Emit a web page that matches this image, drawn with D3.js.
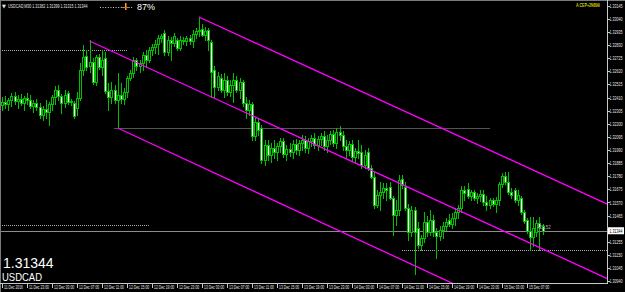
<!DOCTYPE html>
<html>
<head>
<meta charset="utf-8">
<script src="https://cdnjs.cloudflare.com/ajax/libs/d3/7.8.5/d3.min.js"></script>
<style>
html, body { margin: 0; padding: 0; background: #000; overflow: hidden; }
</style>
</head>
<body>
<div id="chart"></div>
<script>
// USDCAD M30 candles, [open, high, low, close], oldest first
var candles = [
	[1.32350,1.32414,1.32310,1.32374],[1.32374,1.32422,1.32326,1.32358],[1.32358,1.32406,1.32310,1.32390],
	[1.32390,1.32446,1.32342,1.32422],[1.32422,1.32454,1.32358,1.32382],[1.32382,1.32430,1.32326,1.32398],
	[1.32398,1.32438,1.32350,1.32366],[1.32366,1.32422,1.32310,1.32406],[1.32406,1.32446,1.32358,1.32390],
	[1.32390,1.32430,1.32326,1.32342],[1.32342,1.32390,1.32294,1.32366],[1.32366,1.32398,1.32310,1.32334],
	[1.32334,1.32366,1.32246,1.32270],[1.32270,1.32342,1.32230,1.32318],[1.32318,1.32390,1.32246,1.32294],
	[1.32294,1.32374,1.32190,1.32358],[1.32358,1.32430,1.32310,1.32414],[1.32414,1.32502,1.32358,1.32470],
	[1.32470,1.32510,1.32390,1.32422],[1.32422,1.32438,1.32286,1.32366],[1.32366,1.32470,1.32334,1.32430],
	[1.32446,1.32462,1.32358,1.32374],[1.32374,1.32398,1.32350,1.32382],[1.32366,1.32382,1.32246,1.32262],
	[1.32326,1.32454,1.32270,1.32406],[1.32406,1.32686,1.32390,1.32630],[1.32630,1.32830,1.32590,1.32734],
	[1.32742,1.32790,1.32630,1.32654],[1.32662,1.32870,1.32614,1.32694],[1.32694,1.32726,1.32518,1.32534],
	[1.32534,1.32750,1.32510,1.32734],[1.32734,1.32758,1.32638,1.32654],[1.32654,1.32790,1.32590,1.32710],
	[1.32726,1.32774,1.32446,1.32462],[1.32462,1.32526,1.32310,1.32414],[1.32414,1.32534,1.32366,1.32470],
	[1.32470,1.32510,1.32366,1.32390],[1.32390,1.32606,1.32166,1.32430],[1.32430,1.32526,1.32366,1.32398],
	[1.32398,1.32486,1.32358,1.32454],[1.32454,1.32582,1.32414,1.32566],[1.32566,1.32630,1.32550,1.32606],
	[1.32606,1.32734,1.32574,1.32710],[1.32710,1.32726,1.32630,1.32662],[1.32662,1.32710,1.32614,1.32686],
	[1.32686,1.32774,1.32630,1.32750],[1.32750,1.32790,1.32654,1.32710],[1.32710,1.32814,1.32694,1.32790],
	[1.32790,1.32838,1.32750,1.32814],[1.32814,1.32870,1.32766,1.32838],[1.32838,1.32910,1.32758,1.32886],
	[1.32886,1.32918,1.32854,1.32902],[1.32926,1.32950,1.32750,1.32774],[1.32774,1.32902,1.32750,1.32870],
	[1.32870,1.32894,1.32710,1.32846],[1.32846,1.32926,1.32822,1.32902],[1.32870,1.32886,1.32790,1.32806],
	[1.32806,1.32902,1.32790,1.32870],[1.32870,1.32894,1.32838,1.32862],[1.32862,1.32902,1.32830,1.32886],
	[1.32886,1.32910,1.32838,1.32862],[1.32862,1.32950,1.32814,1.32918],[1.32918,1.32966,1.32886,1.32942],
	[1.32942,1.33054,1.32902,1.32950],[1.32958,1.32998,1.32902,1.32910],[1.32910,1.32974,1.32870,1.32942],
	[1.32950,1.32966,1.32790,1.32870],[1.32854,1.32870,1.32414,1.32614],[1.32630,1.32662,1.32414,1.32494],
	[1.32494,1.32614,1.32470,1.32582],[1.32566,1.32598,1.32454,1.32470],[1.32470,1.32606,1.32414,1.32550],
	[1.32550,1.32582,1.32430,1.32454],[1.32454,1.32550,1.32422,1.32510],[1.32510,1.32606,1.32374,1.32550],
	[1.32550,1.32582,1.32454,1.32470],[1.32470,1.32566,1.32406,1.32534],[1.32534,1.32550,1.32342,1.32366],
	[1.32366,1.32414,1.32246,1.32310],[1.32310,1.32390,1.32270,1.32358],[1.32358,1.32374,1.32070,1.32102],
	[1.32102,1.32246,1.32070,1.32214],[1.32214,1.32246,1.32110,1.32150],[1.32166,1.32190,1.31886,1.31910],
	[1.31910,1.32070,1.31870,1.32030],[1.32030,1.32070,1.31910,1.31950],[1.31950,1.32046,1.31894,1.32006],
	[1.32006,1.32070,1.31926,1.31974],[1.31974,1.32046,1.31910,1.32022],[1.32022,1.32086,1.31974,1.32062],
	[1.32062,1.32086,1.31934,1.31958],[1.31958,1.32030,1.31910,1.31998],[1.31998,1.32046,1.31942,1.31974],
	[1.31974,1.32070,1.31926,1.32038],[1.32038,1.32078,1.31958,1.31990],[1.31990,1.32070,1.31950,1.32046],
	[1.32046,1.32110,1.31990,1.32070],[1.32070,1.32102,1.31974,1.32006],[1.32006,1.32086,1.31966,1.32062],
	[1.32062,1.32110,1.32022,1.32086],[1.32086,1.32126,1.32006,1.32030],[1.32030,1.32102,1.31990,1.32078],
	[1.32078,1.32126,1.32030,1.32102],[1.32102,1.32142,1.31990,1.32022],[1.32022,1.32110,1.31974,1.32070],
	[1.32070,1.32142,1.32038,1.32118],[1.32118,1.32150,1.32022,1.32046],[1.32046,1.32166,1.32006,1.32134],
	[1.32134,1.32182,1.32070,1.32110],[1.32110,1.32142,1.31990,1.32022],[1.32022,1.32070,1.31926,1.31990],
	[1.31990,1.32062,1.31950,1.32038],[1.32038,1.32070,1.31910,1.31934],[1.31934,1.32006,1.31894,1.31982],
	[1.31982,1.32070,1.31926,1.31966],[1.31974,1.32030,1.31846,1.31870],[1.31870,1.31990,1.31846,1.31950],
	[1.31974,1.32006,1.31830,1.31846],[1.31846,1.31870,1.31766,1.31774],[1.31774,1.31814,1.31526,1.31550],
	[1.31550,1.31670,1.31534,1.31630],[1.31630,1.31734,1.31510,1.31654],[1.31654,1.31726,1.31606,1.31686],
	[1.31686,1.31726,1.31590,1.31670],[1.31694,1.31734,1.31598,1.31606],[1.31606,1.31622,1.31310,1.31470],
	[1.31470,1.31590,1.31390,1.31510],[1.31510,1.31790,1.31470,1.31750],[1.31758,1.31790,1.31686,1.31710],
	[1.31694,1.31734,1.31510,1.31526],[1.31526,1.31558,1.31270,1.31334],[1.31334,1.31542,1.31302,1.31510],
	[1.31510,1.31534,1.30998,1.31334],[1.31366,1.31414,1.31206,1.31230],[1.31230,1.31310,1.31190,1.31286],
	[1.31286,1.31494,1.31254,1.31414],[1.31414,1.31462,1.31302,1.31334],[1.31334,1.31510,1.31310,1.31430],
	[1.31430,1.31470,1.31302,1.31334],[1.31334,1.31366,1.31126,1.31302],[1.31302,1.31382,1.31270,1.31350],
	[1.31350,1.31414,1.31286,1.31382],[1.31382,1.31446,1.31350,1.31414],[1.31430,1.31478,1.31382,1.31398],
	[1.31398,1.31486,1.31366,1.31446],[1.31446,1.31526,1.31390,1.31494],[1.31494,1.31550,1.31446,1.31526],
	[1.31526,1.31702,1.31494,1.31670],[1.31670,1.31702,1.31590,1.31646],[1.31678,1.31726,1.31606,1.31622],
	[1.31622,1.31670,1.31590,1.31654],[1.31654,1.31670,1.31590,1.31606],[1.31606,1.31646,1.31566,1.31622],
	[1.31622,1.31670,1.31582,1.31638],[1.31638,1.31670,1.31550,1.31574],[1.31574,1.31622,1.31510,1.31550],
	[1.31550,1.31606,1.31526,1.31590],[1.31590,1.31606,1.31542,1.31558],[1.31558,1.31614,1.31494,1.31590],
	[1.31590,1.31734,1.31550,1.31718],[1.31718,1.31806,1.31694,1.31782],[1.31782,1.31814,1.31718,1.31734],
	[1.31734,1.31814,1.31638,1.31654],[1.31654,1.31686,1.31606,1.31630],[1.31670,1.31686,1.31574,1.31590],
	[1.31590,1.31670,1.31550,1.31630],[1.31606,1.31622,1.31478,1.31494],[1.31494,1.31510,1.31406,1.31422],
	[1.31430,1.31446,1.31326,1.31342],[1.31342,1.31454,1.31190,1.31294],[1.31294,1.31454,1.31222,1.31366],
	[1.31334,1.31430,1.31302,1.31406],[1.31406,1.31454,1.31190,1.31374],[1.31382,1.31399,1.31315,1.31344]
];

// one time label every 8 bars
var timeLabels = ["11 Dec 2016", "11 Dec 23:00", "12 Dec 03:00", "12 Dec 07:00", "12 Dec 11:00",
	"12 Dec 15:00", "12 Dec 19:00", "12 Dec 23:00", "13 Dec 03:00", "13 Dec 07:00", "13 Dec 11:00",
	"13 Dec 15:00", "13 Dec 19:00", "13 Dec 23:00", "14 Dec 03:00", "14 Dec 07:00", "14 Dec 11:00",
	"14 Dec 15:00", "14 Dec 19:00", "14 Dec 23:00", "15 Dec 03:00", "15 Dec 07:00"];

var priceTicks = [1.33145, 1.33040, 1.32935, 1.32830, 1.32725, 1.32620, 1.32515, 1.32410, 1.32305,
	1.32200, 1.32095, 1.31990, 1.31885, 1.31780, 1.31675, 1.31570, 1.31465, 1.31360, 1.31255,
	1.31150, 1.31045, 1.30940];

var symbol = "USDCAD", period = "M30";
var lastPrice = 1.31344;
var spreadNote = "+23.52";

// trend channel, each line = [bar, price] -> [bar, price]
var channelUpper = [[63, 1.33054], [194, 1.31554]];
var channelMiddle = [[28, 1.32862], [194, 1.30958]];
var channelLower = [[37, 1.32166], [150, 1.30856]];

// dotted horizontal levels: price, first bar, last bar
var levelPrices = [1.32790, 1.32166, 1.31390, 1.31190];
var levelFrom = [-1, 36, -1, 128];
var levelTo = [40, 156, 47, 195];

var W = 625, H = 292;
var plotR = 607, plotB = 283;
var green = "#00c000";
var font = "Liberation Sans, Arial, sans-serif";

var svg = d3.select("#chart").append("svg")
	.attr("width", W).attr("height", H)
	.style("display", "block")
	.style("background", "#000");

var x = d3.scaleLinear().domain([0, 194]).range([2, 608.25]);
var y = d3.scaleLinear().domain([1.33190, 1.30926]).range([0, 283]);

// tiny terminal text, squeezed sideways like the downscaled original
function tinyText(parent, tx, ty, sx, txt, fill) {
	return parent.append("g")
		.attr("transform", "translate(" + tx + "," + ty + ") scale(" + sx + ",1)")
		.append("text")
		.attr("font-family", font).attr("font-size", 5)
		.attr("fill", fill).text(txt);
}

svg.append("defs").append("clipPath").attr("id", "plot")
	.append("rect").attr("x", 1).attr("y", 1).attr("width", plotR - 1).attr("height", plotB - 1);

var plot = svg.append("g").attr("clip-path", "url(#plot)");

// --- levels --- \\
levelPrices.forEach(function (p, k) {
	var yy = Math.round(y(p)) + 0.5;
	plot.append("line")
		.attr("x1", Math.max(0, x(levelFrom[k]))).attr("x2", Math.min(plotR, x(levelTo[k])))
		.attr("y1", yy).attr("y2", yy)
		.attr("stroke", "#a8a8a8").attr("stroke-width", 1)
		.attr("stroke-dasharray", "1,1");
});

// bid line
var bidY = Math.round(y(lastPrice)) + 0.5;
plot.append("line")
	.attr("x1", 0).attr("x2", plotR).attr("y1", bidY).attr("y2", bidY)
	.attr("stroke", "#8c8c8c").attr("stroke-width", 1);

// --- candles --- \\
var bars = plot.append("g");
candles.forEach(function (c, i) {
	var cx = Math.round(x(i));
	var o = c[0], h = c[1], l = c[2], cl = c[3];
	bars.append("line")
		.attr("x1", cx + 0.5).attr("x2", cx + 0.5)
		.attr("y1", Math.round(y(h))).attr("y2", Math.round(y(l)) + 1)
		.attr("stroke", green).attr("stroke-width", 1);
	var top = Math.round(y(Math.max(o, cl))) + 0.5;
	var bot = Math.round(y(Math.min(o, cl))) + 0.5;
	if (bot - top < 1) {
		bars.append("line")
			.attr("x1", cx - 1).attr("x2", cx + 2).attr("y1", top).attr("y2", top)
			.attr("stroke", green).attr("stroke-width", 1);
		return;
	}
	bars.append("rect")
		.attr("x", cx - 0.5).attr("y", top)
		.attr("width", 2).attr("height", bot - top)
		.attr("fill", cl < o ? "#ffffff" : "#000000")
		.attr("stroke", green).attr("stroke-width", 1);
});

// --- channel --- \\
[channelUpper, channelMiddle, channelLower].forEach(function (ln) {
	plot.append("line")
		.attr("x1", x(ln[0][0])).attr("y1", y(ln[0][1]))
		.attr("x2", x(ln[1][0])).attr("y2", y(ln[1][1]))
		.attr("stroke", "#ff00ff").attr("stroke-width", 1.3);
});

// --- frame --- \\
svg.append("line").attr("x1", 0).attr("x2", W).attr("y1", 0.5).attr("y2", 0.5)
	.attr("stroke", "#7a7a7a").attr("stroke-width", 1);
svg.append("line").attr("x1", 0.5).attr("x2", 0.5).attr("y1", 0).attr("y2", H)
	.attr("stroke", "#7a7a7a").attr("stroke-width", 1);
svg.append("line").attr("x1", plotR + 0.5).attr("x2", plotR + 0.5).attr("y1", 0).attr("y2", plotB + 1)
	.attr("stroke", "#c8c8c8").attr("stroke-width", 1);
svg.append("line").attr("x1", 0).attr("x2", plotR + 1).attr("y1", plotB + 0.5).attr("y2", plotB + 0.5)
	.attr("stroke", "#c8c8c8").attr("stroke-width", 1);

// --- price axis --- \\
var pAxis = svg.append("g");
priceTicks.forEach(function (p) {
	var yy = y(p);
	if (Math.abs(yy - y(lastPrice)) < 6) return;  // hidden behind the bid box
	pAxis.append("line").attr("x1", plotR + 1).attr("x2", plotR + 3)
		.attr("y1", Math.round(yy) + 0.5).attr("y2", Math.round(yy) + 0.5)
		.attr("stroke", "#c8c8c8");
	tinyText(pAxis, 609.5, yy + 2, 0.72, d3.format(".5f")(p), "#e6e6e6");
});
pAxis.append("rect").attr("x", 608).attr("y", y(lastPrice) - 3.5)
	.attr("width", 16).attr("height", 7).attr("fill", "#ffffff");
tinyText(pAxis, 609.5, y(lastPrice) + 2, 0.72, d3.format(".5f")(lastPrice), "#000");

// --- time axis --- \\
var tAxis = svg.append("g");
timeLabels.forEach(function (t, k) {
	var xx = Math.round(x(k * 8)) + 0.5;
	tAxis.append("line").attr("x1", xx).attr("x2", xx).attr("y1", plotB + 1).attr("y2", plotB + 5)
		.attr("stroke", "#c8c8c8");
	tinyText(tAxis, xx + 1.5, 289, 0.68, t, "#e6e6e6");
});

// --- text overlays --- \\
var last = candles[candles.length - 1];
svg.append("text").attr("x", 2).attr("y", 7.5)
	.attr("font-family", "DejaVu Sans, sans-serif").attr("font-size", 5)
	.attr("fill", "#e6e6e6").text("\u25BC");
tinyText(svg, 8, 7.5, 0.66, symbol + "," + period + "  " + last.map(d3.format(".5f")).join(" "), "#e6e6e6")
	.attr("font-size", 5.5);

// little gauge next to the percentage
svg.append("line").attr("x1", 100).attr("x2", 133).attr("y1", 7.5).attr("y2", 7.5)
	.attr("stroke", "#d0d0d0").attr("stroke-dasharray", "1,1.6");
svg.append("rect").attr("x", 125).attr("y", 3).attr("width", 1.5).attr("height", 7).attr("fill", "#ff9a2a");
svg.append("rect").attr("x", 122).attr("y", 7).attr("width", 7).attr("height", 1).attr("fill", "#c07a30");
svg.append("text").attr("x", 137).attr("y", 9.5)
	.attr("font-family", font).attr("font-size", 9)
	.attr("fill", "#ffffff").text("87%");

tinyText(svg, 576, 7, 0.66, "A CEP+2N899", "#d4d400")
	.attr("font-size", 5.5).attr("font-weight", "bold");

tinyText(svg, 537, 229, 0.9, spreadNote, "#b0b0b0");

svg.append("text").attr("x", 3).attr("y", 268)
	.attr("font-family", font).attr("font-size", 14)
	.attr("fill", "#ffffff").text(d3.format(".5f")(lastPrice));
svg.append("text").attr("x", 2).attr("y", 280.5)
	.attr("font-family", font).attr("font-size", 10.5)
	.attr("textLength", 40).attr("lengthAdjust", "spacingAndGlyphs")
	.attr("fill", "#ffffff").text(symbol);
</script>
</body>
</html>
